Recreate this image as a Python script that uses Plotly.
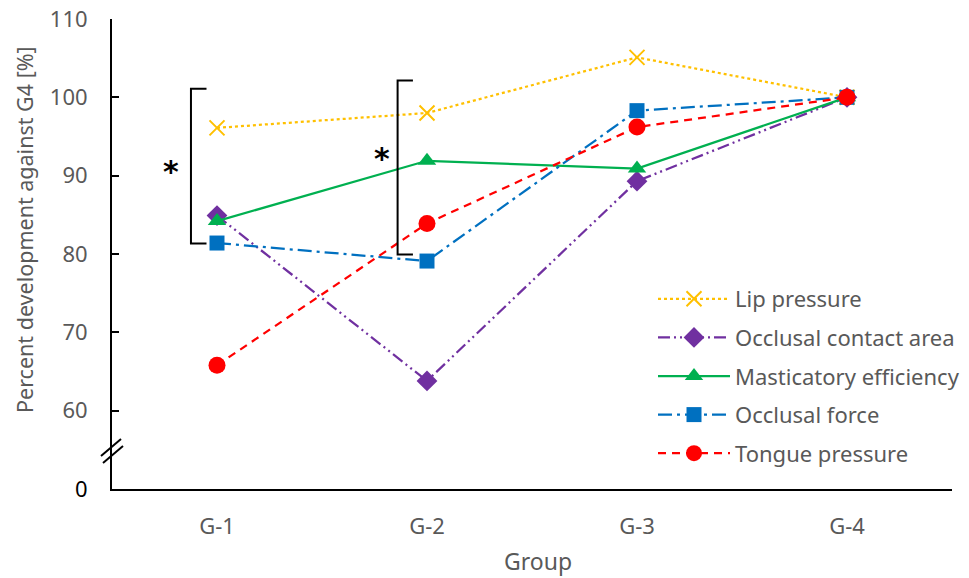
import plotly.graph_objects as go

groups = ["G-1", "G-2", "G-3", "G-4"]
lip_pressure = [96.1, 98.0, 105.1, 100.0]
occlusal_contact_area = [84.9, 63.8, 89.3, 100.0]
masticatory_efficiency = [84.2, 91.9, 90.9, 100.0]
occlusal_force = [81.4, 79.1, 98.3, 100.0]
tongue_pressure = [65.8, 83.9, 96.2, 100.0]

y_tickvals = [50, 60, 70, 80, 90, 100, 110]
y_ticktext = ["<span style='color:black'>0</span>", "60", "70", "80", "90", "100", "110"]

xpos = list(range(len(groups)))
GRAY = "#595959"
FONT = "Noto Sans"

# body margin removed via post_script; plot area on screen: x 112..952, y 19..489
PL, PR, PT, PB = 112, 952, 19, 489
PW, PH = PR - PL, PB - PT


def px(x):
    return (x - PL) / PW


def py(y):
    return (PB - y) / PH


series = [
    ("Lip pressure", lip_pressure, "#FFC000", "dot", "x-thin-open", 15, 1),
    ("Occlusal contact area", occlusal_contact_area, "#7030A0", "12px,4px,2px,4px,2px,4px", "diamond", 16, 2),
    ("Masticatory efficiency", masticatory_efficiency, "#00B050", "solid", "triangle-up", 16, 3),
    ("Occlusal force", occlusal_force, "#0070C0", "14px,5px,3px,5px", "square", 15, 4),
    ("Tongue pressure", tongue_pressure, "#FF0000", "8px,6px", "circle", 17, 5),
]

fig = go.Figure()
for name, vals, color, dash, sym, size, g in series:
    marker = dict(symbol=sym, size=size, color=color)
    if sym == "x-thin-open":
        marker["line"] = dict(color=color, width=2)
    fig.add_trace(go.Scatter(
        x=xpos, y=vals, name=name, mode="lines+markers",
        line=dict(color=color, width=2.25, dash=dash),
        marker=marker, legendgroup=str(g),
    ))

# significance brackets
shapes = [
    dict(type="path", xref="x", yref="y",
         path="M -0.05,101.1 L -0.124,101.1 L -0.124,81.35 L -0.05,81.35",
         line=dict(color="black", width=2)),
    dict(type="path", xref="x", yref="y",
         path="M 0.933,102.15 L 0.86,102.15 L 0.86,79.95 L 0.933,79.95",
         line=dict(color="black", width=2)),
    # axis break mark
    dict(type="line", xref="paper", yref="paper",
         x0=px(101), y0=py(456), x1=px(121), y1=py(439),
         line=dict(color="black", width=2)),
    dict(type="line", xref="paper", yref="paper",
         x0=px(103), y0=py(463), x1=px(123), y1=py(446),
         line=dict(color="black", width=2)),
]

annotations = [
    dict(x=-0.22, y=90.5, xref="x", yref="y", text="<b>*</b>", showarrow=False,
         font=dict(size=30, color="black", family="DejaVu Sans")),
    dict(x=0.786, y=92.2, xref="x", yref="y", text="<b>*</b>", showarrow=False,
         font=dict(size=30, color="black", family="DejaVu Sans")),
    dict(x=px(24), y=py(230), xref="paper", yref="paper", xanchor="center", yanchor="middle",
         text="Percent development against G4 [%]", textangle=-90, showarrow=False,
         font=dict(size=21.5, color=GRAY, family=FONT)),
    dict(x=px(538), y=py(561), xref="paper", yref="paper", xanchor="center", yanchor="middle",
         text="Group", showarrow=False,
         font=dict(size=23, color=GRAY, family=FONT)),
]

fig.update_layout(
    width=969, height=578,
    margin=dict(l=PL, r=969 - PR, t=PT, b=578 - PB, autoexpand=False),
    plot_bgcolor="white", paper_bgcolor="white",
    showlegend=True,
    legend=dict(x=px(653), y=py(278), xanchor="left", yanchor="top",
                font=dict(size=22, color=GRAY, family=FONT),
                itemwidth=72, tracegroupgap=7, bgcolor="rgba(0,0,0,0)"),
    shapes=shapes, annotations=annotations,
    xaxis=dict(range=[-0.5, 3.5], tickvals=xpos, ticktext=groups, showgrid=False,
               zeroline=False, showline=True, linecolor="black", linewidth=2,
               ticks="", ticklabelstandoff=17, automargin=False, ticklabeloverflow="allow",
               tickfont=dict(size=22, color=GRAY, family=FONT)),
    yaxis=dict(range=[50, 110], tickvals=y_tickvals, ticktext=y_ticktext, showgrid=False,
               zeroline=False, showline=True, linecolor="black", linewidth=2,
               ticks="inside", ticklen=7, tickwidth=1.5, tickcolor="black",
               ticklabelstandoff=18, automargin=False, ticklabeloverflow="allow",
               tickfont=dict(size=22, color=GRAY, family=FONT)),
)

fig.write_html("out.html", config={"displayModeBar": False},
               post_script="document.body.style.margin='0';document.body.style.overflow='hidden';")
